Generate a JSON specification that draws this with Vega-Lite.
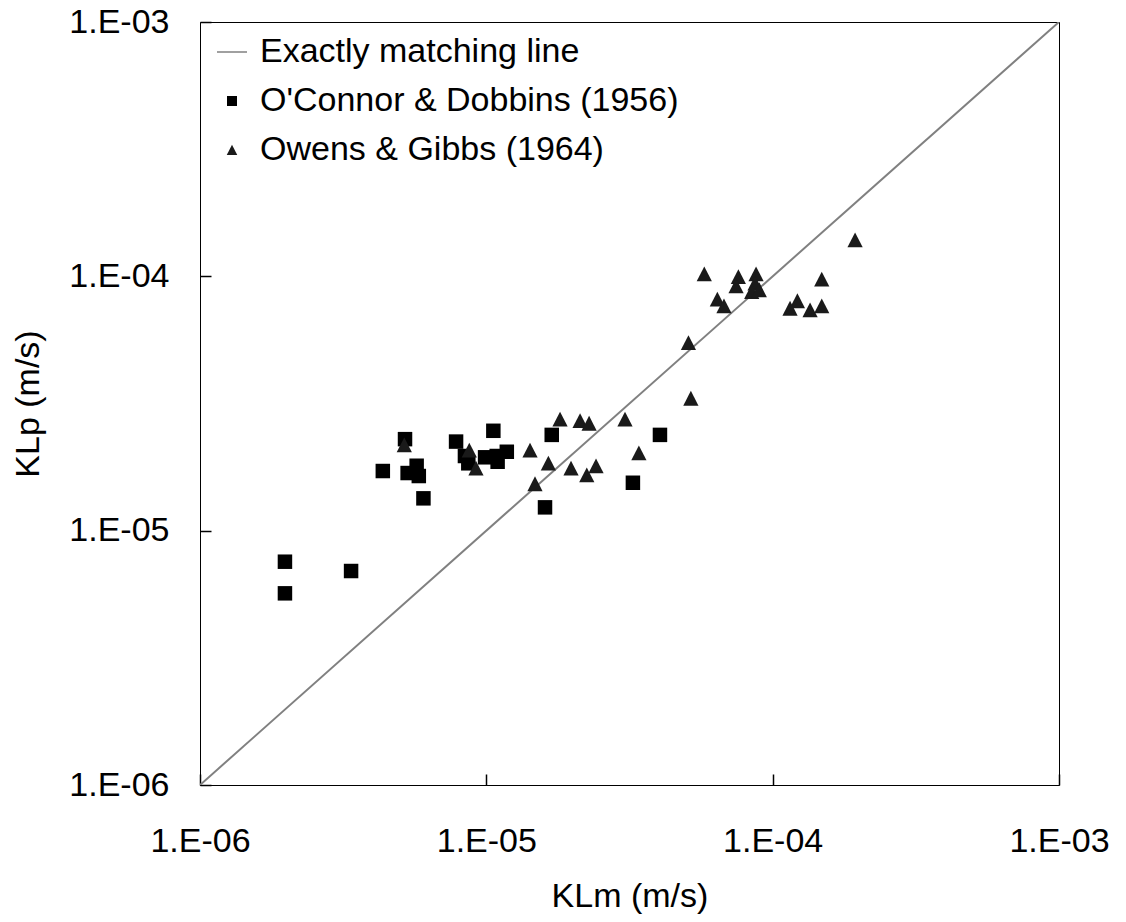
{
  "$schema": "https://vega.github.io/schema/vega-lite/v6.json",
  "width": 859,
  "height": 763,
  "autosize": {"type": "none"},
  "padding": {"left": 200, "top": 22, "right": 67, "bottom": 137},
  "background": "white",
  "config": {
    "view": {"stroke": "#000000", "strokeWidth": 1},
    "font": "Liberation Sans",
    "axis": {
      "grid": false,
      "domain": false,
      "ticks": true,
      "tickColor": "#000000",
      "tickOpacity": 1,
      "tickWidth": 1.5,
      "tickSize": 11,
      "offset": -11,
      "zindex": 1,
      "labelFont": "Liberation Sans",
      "labelFontSize": 34,
      "labelColor": "#000000",
      "labelFlush": false,
      "labelOverlap": false,
      "labelBound": false,
      "titleFont": "Liberation Sans",
      "titleFontSize": 34,
      "titleFontWeight": "normal",
      "titleColor": "#000000"
    },
    "legend": {
      "title": null,
      "padding": 0,
      "symbolSize": 100,
      "symbolOpacity": 1,
      "rowPadding": 15,
      "labelOffset": 11,
      "labelFont": "Liberation Sans",
      "labelFontSize": 34,
      "labelColor": "#000000",
      "labelLimit": 600
    }
  },
  "datasets": {
    "points": [
      {"KLm": 1.98e-6, "KLp": 7.55e-6, "series": "O'Connor & Dobbins (1956)"},
      {"KLm": 1.98e-6, "KLp": 5.67e-6, "series": "O'Connor & Dobbins (1956)"},
      {"KLm": 3.37e-6, "KLp": 6.94e-6, "series": "O'Connor & Dobbins (1956)"},
      {"KLm": 4.35e-6, "KLp": 1.716e-5, "series": "O'Connor & Dobbins (1956)"},
      {"KLm": 5.2e-6, "KLp": 2.29e-5, "series": "O'Connor & Dobbins (1956)"},
      {"KLm": 5.31e-6, "KLp": 1.685e-5, "series": "O'Connor & Dobbins (1956)"},
      {"KLm": 5.71e-6, "KLp": 1.8e-5, "series": "O'Connor & Dobbins (1956)"},
      {"KLm": 5.81e-6, "KLp": 1.64e-5, "series": "O'Connor & Dobbins (1956)"},
      {"KLm": 6.03e-6, "KLp": 1.34e-5, "series": "O'Connor & Dobbins (1956)"},
      {"KLm": 7.84e-6, "KLp": 2.24e-5, "series": "O'Connor & Dobbins (1956)"},
      {"KLm": 1.058e-5, "KLp": 2.47e-5, "series": "O'Connor & Dobbins (1956)"},
      {"KLm": 8.42e-6, "KLp": 1.966e-5, "series": "O'Connor & Dobbins (1956)"},
      {"KLm": 8.65e-6, "KLp": 1.84e-5, "series": "O'Connor & Dobbins (1956)"},
      {"KLm": 9.9e-6, "KLp": 1.943e-5, "series": "O'Connor & Dobbins (1956)"},
      {"KLm": 1.087e-5, "KLp": 1.966e-5, "series": "O'Connor & Dobbins (1956)"},
      {"KLm": 1.179e-5, "KLp": 2.043e-5, "series": "O'Connor & Dobbins (1956)"},
      {"KLm": 1.095e-5, "KLp": 1.866e-5, "series": "O'Connor & Dobbins (1956)"},
      {"KLm": 1.692e-5, "KLp": 2.38e-5, "series": "O'Connor & Dobbins (1956)"},
      {"KLm": 4.04e-5, "KLp": 2.38e-5, "series": "O'Connor & Dobbins (1956)"},
      {"KLm": 3.25e-5, "KLp": 1.543e-5, "series": "O'Connor & Dobbins (1956)"},
      {"KLm": 1.603e-5, "KLp": 1.235e-5, "series": "O'Connor & Dobbins (1956)"},
      {"KLm": 5.17e-6, "KLp": 2.17e-5, "series": "Owens & Gibbs (1964)"},
      {"KLm": 8.72e-6, "KLp": 2.07e-5, "series": "Owens & Gibbs (1964)"},
      {"KLm": 9.2e-6, "KLp": 1.758e-5, "series": "Owens & Gibbs (1964)"},
      {"KLm": 1.421e-5, "KLp": 2.07e-5, "series": "Owens & Gibbs (1964)"},
      {"KLm": 1.647e-5, "KLp": 1.84e-5, "series": "Owens & Gibbs (1964)"},
      {"KLm": 1.479e-5, "KLp": 1.526e-5, "series": "Owens & Gibbs (1964)"},
      {"KLm": 1.809e-5, "KLp": 2.74e-5, "series": "Owens & Gibbs (1964)"},
      {"KLm": 2.125e-5, "KLp": 2.705e-5, "series": "Owens & Gibbs (1964)"},
      {"KLm": 2.285e-5, "KLp": 2.64e-5, "series": "Owens & Gibbs (1964)"},
      {"KLm": 1.976e-5, "KLp": 1.758e-5, "series": "Owens & Gibbs (1964)"},
      {"KLm": 2.243e-5, "KLp": 1.655e-5, "series": "Owens & Gibbs (1964)"},
      {"KLm": 2.416e-5, "KLp": 1.795e-5, "series": "Owens & Gibbs (1964)"},
      {"KLm": 3.05e-5, "KLp": 2.74e-5, "series": "Owens & Gibbs (1964)"},
      {"KLm": 3.41e-5, "KLp": 2.02e-5, "series": "Owens & Gibbs (1964)"},
      {"KLm": 5.18e-5, "KLp": 3.31e-5, "series": "Owens & Gibbs (1964)"},
      {"KLm": 5.08e-5, "KLp": 5.48e-5, "series": "Owens & Gibbs (1964)"},
      {"KLm": 5.77e-5, "KLp": 1.021e-4, "series": "Owens & Gibbs (1964)"},
      {"KLm": 6.41e-5, "KLp": 8.12e-5, "series": "Owens & Gibbs (1964)"},
      {"KLm": 6.76e-5, "KLp": 7.64e-5, "series": "Owens & Gibbs (1964)"},
      {"KLm": 7.59e-5, "KLp": 9.96e-5, "series": "Owens & Gibbs (1964)"},
      {"KLm": 7.45e-5, "KLp": 9.16e-5, "series": "Owens & Gibbs (1964)"},
      {"KLm": 8.75e-5, "KLp": 1.021e-4, "series": "Owens & Gibbs (1964)"},
      {"KLm": 8.68e-5, "KLp": 9.39e-5, "series": "Owens & Gibbs (1964)"},
      {"KLm": 8.45e-5, "KLp": 8.7e-5, "series": "Owens & Gibbs (1964)"},
      {"KLm": 8.98e-5, "KLp": 8.84e-5, "series": "Owens & Gibbs (1964)"},
      {"KLm": 1.94e-4, "KLp": 1.389e-4, "series": "Owens & Gibbs (1964)"},
      {"KLm": 1.484e-4, "KLp": 9.73e-5, "series": "Owens & Gibbs (1964)"},
      {"KLm": 1.22e-4, "KLp": 8.0e-5, "series": "Owens & Gibbs (1964)"},
      {"KLm": 1.15e-4, "KLp": 7.48e-5, "series": "Owens & Gibbs (1964)"},
      {"KLm": 1.351e-4, "KLp": 7.37e-5, "series": "Owens & Gibbs (1964)"},
      {"KLm": 1.484e-4, "KLp": 7.64e-5, "series": "Owens & Gibbs (1964)"}
    ],
    "line": [
      {"KLm": 1e-6, "KLp": 1e-6},
      {"KLm": 1e-3, "KLp": 1e-3}
    ]
  },
  "encoding": {
    "x": {
      "field": "KLm", "type": "quantitative",
      "scale": {"type": "log", "domain": [1e-6, 1e-3], "nice": false},
      "axis": {
        "title": "KLm (m/s)",
        "values": [1e-6, 1e-5, 1e-4, 1e-3],
        "labelExpr": "'1.E-' + format(round(-log(datum.value)/LN10), '02')",
        "labelPadding": 39,
        "titleBaseline": "alphabetic",
        "titleY": 132
      }
    },
    "y": {
      "field": "KLp", "type": "quantitative",
      "scale": {"type": "log", "domain": [1e-6, 1e-3], "nice": false},
      "axis": {
        "title": "KLp (m/s)",
        "values": [1e-6, 1e-5, 1e-4, 1e-3],
        "labelExpr": "'1.E-' + format(round(-log(datum.value)/LN10), '02')",
        "labelPadding": 31,
        "titleBaseline": "alphabetic",
        "titleX": -173
      }
    }
  },
  "layer": [
    {
      "data": {"name": "line"},
      "mark": {"type": "line", "color": "#808080", "strokeWidth": 2, "clip": true}
    },
    {
      "data": {"name": "points"},
      "mark": {"type": "point", "filled": true, "opacity": 1, "size": 210},
      "encoding": {
        "shape": {
          "field": "series", "type": "nominal",
          "scale": {
            "domain": ["Exactly matching line", "O'Connor & Dobbins (1956)", "Owens & Gibbs (1964)"],
            "range": ["M-3,0H3", "square", "M0,-1.05L1.05,1L-1.05,1Z"]
          },
          "legend": {
            "orient": "none",
            "legendX": 15,
            "legendY": 13,
            "encode": {
              "symbols": {
                "update": {
                  "stroke": {"signal": "datum.value === 'Exactly matching line' ? '#808080' : 'transparent'"},
                  "strokeWidth": {"value": 1.5}
                }
              }
            }
          }
        },
        "color": {
          "field": "series", "type": "nominal",
          "scale": {
            "domain": ["Exactly matching line", "O'Connor & Dobbins (1956)", "Owens & Gibbs (1964)"],
            "range": ["#808080", "#000000", "#1a1a1a"]
          },
          "legend": {
            "orient": "none",
            "legendX": 15,
            "legendY": 13,
            "encode": {
              "symbols": {
                "update": {
                  "stroke": {"signal": "datum.value === 'Exactly matching line' ? '#808080' : 'transparent'"},
                  "strokeWidth": {"value": 1.5}
                }
              }
            }
          }
        }
      }
    }
  ]
}
